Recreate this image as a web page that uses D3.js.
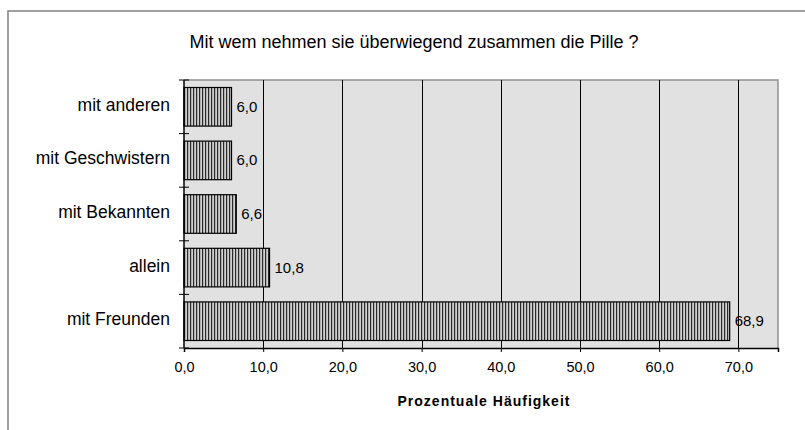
<!DOCTYPE html>
<html>
<head>
<meta charset="utf-8">
<script src="https://cdn.jsdelivr.net/npm/d3@7"></script>
<style>
  html, body { margin: 0; padding: 0; background: #fff; }
  svg { display: block; font-family: "Liberation Sans", Arial, sans-serif; }
</style>
</head>
<body>
<div id="chart"></div>
<script>
  const categories = ['mit anderen', 'mit Geschwistern', 'mit Bekannten', 'allein', 'mit Freunden'];
  const values = [6.0, 6.0, 6.6, 10.8, 68.9];
  const xTicks = [0, 10, 20, 30, 40, 50, 60, 70];
  const title = 'Mit wem nehmen sie überwiegend zusammen die Pille ?';
  const xTitle = 'Prozentuale Häufigkeit';

  const width = 805;
  const height = 430;
  const plot = { left: 184, right: 778, top: 80, bottom: 348 };
  const fmt = v => v.toFixed(1).replace('.', ',');

  const svg = d3.select('#chart')
    .append('svg')
    .attr('width', width)
    .attr('height', height);

  const defs = svg.append('defs');
  const pat = defs.append('pattern')
    .attr('id', 'stripes')
    .attr('patternUnits', 'userSpaceOnUse')
    .attr('width', 3)
    .attr('height', 3);
  pat.append('rect')
    .attr('width', 3)
    .attr('height', 3)
    .attr('fill', '#d0d0d0');
  pat.append('rect')
    .attr('x', 1)
    .attr('width', 1.2)
    .attr('height', 3)
    .attr('fill', '#2a2a2a');

  // outer frame (cropped on right and bottom)
  svg.append('rect')
    .attr('x', 8)
    .attr('y', 11)
    .attr('width', width + 20)
    .attr('height', height + 20)
    .attr('fill', '#fff')
    .attr('stroke', '#808080')
    .attr('stroke-width', 1.5);

  const x = d3.scaleLinear()
    .domain([0, 75])
    .range([plot.left, plot.right]);

  const y = d3.scaleBand()
    .domain(categories)
    .range([plot.top, plot.bottom])
    .paddingInner(0.28)
    .paddingOuter(0.14);

  // plot background
  svg.append('rect')
    .attr('x', plot.left)
    .attr('y', plot.top)
    .attr('width', plot.right - plot.left)
    .attr('height', plot.bottom - plot.top)
    .attr('fill', '#e1e1e1');

  svg.append('path')
    .attr('d', `M${plot.left},${plot.top}H${plot.right}V${plot.bottom}`)
    .attr('fill', 'none')
    .attr('stroke', '#909090')
    .attr('stroke-width', 1.5);

  // gridlines
  svg.append('g')
    .selectAll('line')
    .data(xTicks.filter(d => d > 0))
    .join('line')
    .attr('x1', d => Math.round(x(d)) + 0.5)
    .attr('x2', d => Math.round(x(d)) + 0.5)
    .attr('y1', plot.top)
    .attr('y2', plot.bottom)
    .attr('stroke', '#000')
    .attr('stroke-width', 1);

  // bars
  svg.append('g')
    .selectAll('rect')
    .data(values)
    .join('rect')
    .attr('x', x(0))
    .attr('y', (d, i) => y(categories[i]))
    .attr('width', d => x(d) - x(0))
    .attr('height', y.bandwidth())
    .attr('fill', 'url(#stripes)')
    .attr('stroke', '#000')
    .attr('stroke-width', 1.2);

  // value labels
  svg.append('g')
    .selectAll('text')
    .data(values)
    .join('text')
    .attr('x', d => x(d) + 5)
    .attr('y', (d, i) => y(categories[i]) + y.bandwidth() / 2 + 5)
    .attr('font-size', 15)
    .attr('fill', '#000')
    .text(d => fmt(d));

  // x axis
  const xAxis = d3.axisBottom(x)
    .tickValues(xTicks)
    .tickFormat(fmt)
    .tickSize(4)
    .tickPadding(10);
  const gx = svg.append('g')
    .attr('transform', `translate(0,${plot.bottom})`)
    .call(xAxis);
  gx.select('.domain').attr('stroke', '#000').attr('stroke-width', 1.5);
  gx.selectAll('.tick line').attr('stroke', '#000');
  gx.selectAll('.tick text')
    .attr('font-size', 14.5)
    .attr('font-family', '"Liberation Sans", Arial, sans-serif')
    .attr('fill', '#000');

  // y axis
  const gy = svg.append('g')
    .attr('transform', `translate(${plot.left},0)`);
  gy.append('line')
    .attr('x1', 0).attr('x2', 0)
    .attr('y1', plot.top).attr('y2', plot.bottom)
    .attr('stroke', '#000')
    .attr('stroke-width', 1.5);
  const step = (plot.bottom - plot.top) / categories.length;
  gy.selectAll('line.tick')
    .data(d3.range(categories.length + 1))
    .join('line')
    .attr('class', 'tick')
    .attr('x1', -5).attr('x2', 5)
    .attr('y1', i => plot.top + i * step)
    .attr('y2', i => plot.top + i * step)
    .attr('stroke', '#000');
  gy.selectAll('text')
    .data(categories)
    .join('text')
    .attr('x', -14)
    .attr('y', d => y(d) + y.bandwidth() / 2 + 4)
    .attr('text-anchor', 'end')
    .attr('font-size', 17.5)
    .attr('fill', '#000')
    .text(d => d);

  // titles
  svg.append('text')
    .attr('x', 414)
    .attr('y', 48)
    .attr('text-anchor', 'middle')
    .attr('font-size', 18)
    .attr('fill', '#000')
    .text(title);

  svg.append('text')
    .attr('x', 484)
    .attr('y', 406)
    .attr('text-anchor', 'middle')
    .attr('font-size', 14)
    .attr('letter-spacing', 1)
    .attr('font-weight', 'bold')
    .attr('fill', '#000')
    .text(xTitle);
</script>
</body>
</html>
